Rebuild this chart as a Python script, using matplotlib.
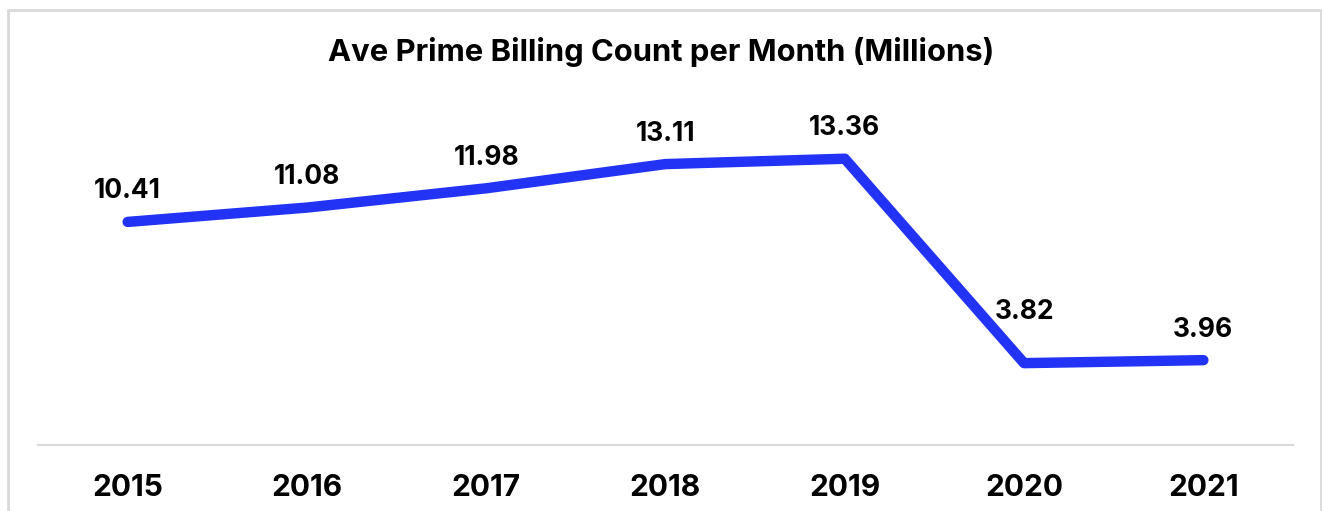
import matplotlib.pyplot as plt
from matplotlib.patches import Rectangle

years = ["2015", "2016", "2017", "2018", "2019", "2020", "2021"]
billing = [10.41, 11.08, 11.98, 13.11, 13.36, 3.82, 3.96]
label_offsets = [22, 22, 22, 22, 22, 37, 22]  # points above the line

plt.rcParams['font.family'] = ['Inter', 'DejaVu Sans']

W, H = 1322, 511
fig = plt.figure(figsize=(W / 100, H / 100), dpi=100)

# light grey card border
fig.patches.append(Rectangle((8 / W, -0.05), (1321 - 8) / W, 1.05 - 10 / H,
                             transform=fig.transFigure, fill=False,
                             edgecolor="#d9d9d9", linewidth=2))

ax = fig.add_axes([38 / W, (H - 445) / H, (1293 - 38) / W, (445 - 100) / H])
x = list(range(len(years)))
ax.plot(x, billing, color="#2233f5", linewidth=7.5,
        solid_capstyle="round", solid_joinstyle="round")

for xi, v, off in zip(x, billing, label_offsets):
    ax.annotate(f"{v:.2f}", (xi, v), xytext=(0, off), textcoords="offset points",
                ha="center", va="center", fontsize=19, fontweight="bold")

ax.set_xlim(-0.5, len(years) - 0.5)
ax.set_ylim(0, 16.1)
ax.set_xticks(x)
ax.set_xticklabels(years, fontsize=21.5, fontweight="bold")
ax.tick_params(axis="x", length=0, pad=21)
ax.set_yticks([])
for s in ["top", "right", "left"]:
    ax.spines[s].set_visible(False)
ax.spines["bottom"].set_color("#d9d9d9")
ax.spines["bottom"].set_linewidth(1.5)

fig.text(0.5, (H - 52) / H, "Ave Prime Billing Count per Month (Millions)",
         ha="center", va="center", fontsize=22.3, fontweight="bold")

fig.savefig("out.png", dpi=100, facecolor="white")
